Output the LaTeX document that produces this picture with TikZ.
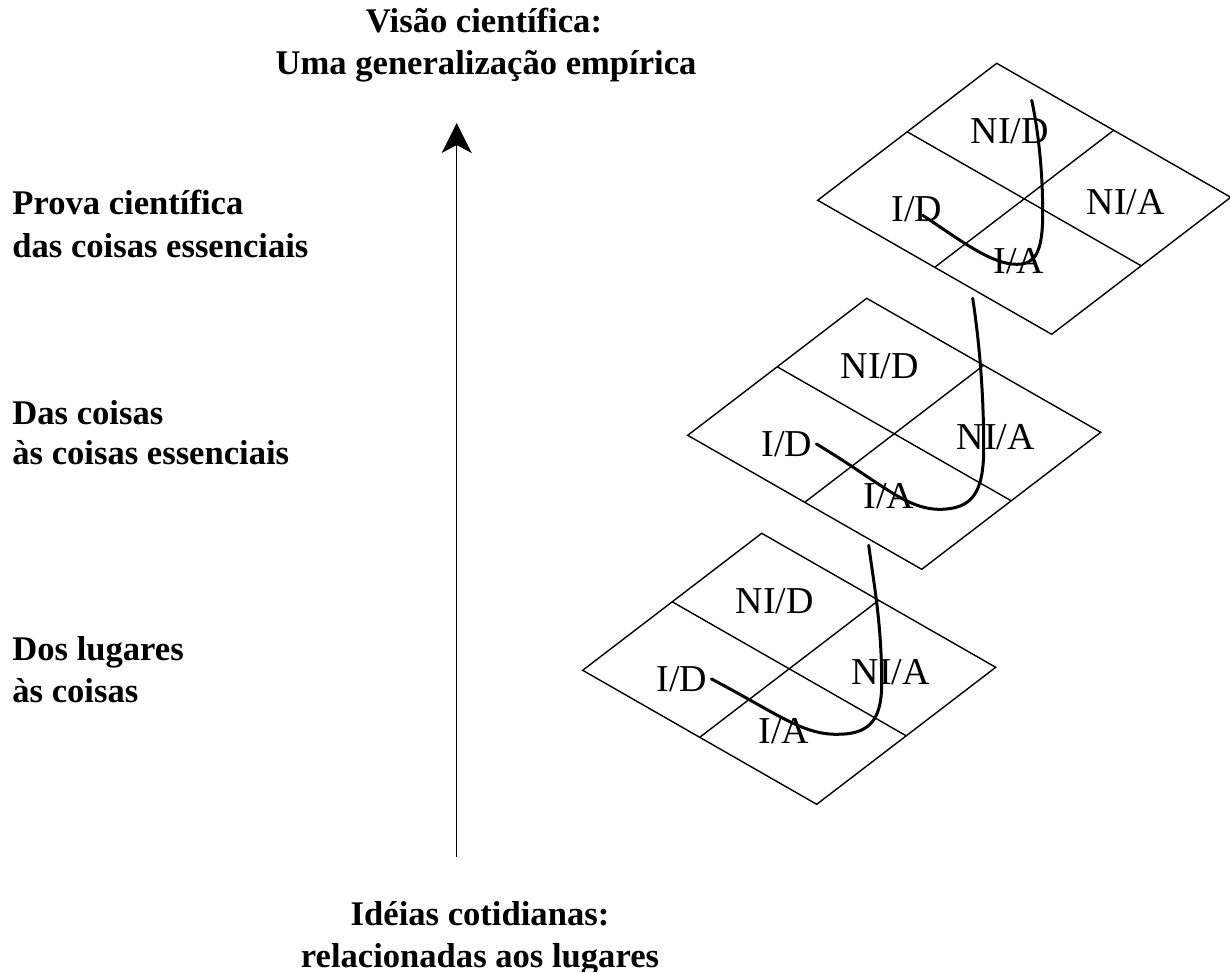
\documentclass[tikz,border=0pt]{standalone}
\usepackage{fontspec}
\setmainfont{Liberation Serif}
\usetikzlibrary{calc,arrows.meta}
\begin{document}
\begin{tikzpicture}[x=0.5pt,y=-0.5pt,
  plane/.style={line width=0.7pt,line join=miter},
  grid/.style={line width=0.7pt},
  path/.style={line width=1.5pt,line cap=round},
  celllabel/.style={font=\fontsize{19}{22}\selectfont,inner sep=2pt,anchor=base},
  sidetext/.style={font=\bfseries\fontsize{17.3}{20}\selectfont,inner sep=0pt,anchor=base west},
  titletext/.style={font=\bfseries\fontsize{17.3}{20}\selectfont,inner sep=0pt,anchor=base},
  axis/.style={line width=0.75pt,-{Stealth[length=15pt,width=15pt,inset=4pt]}}]
\useasboundingbox (0,0) rectangle (1230,972);
\fill[white] (0,0) rectangle (1230,972);

% plane top vertices
\coordinate (T1) at (996.7,63.3);
\coordinate (T2) at (866.7,298.3);
\coordinate (T3) at (761.7,533.3);

\foreach \t in {1,2,3}{
  \coordinate (L\t) at ($(T\t)+(-179,137)$);
  \coordinate (R\t) at ($(T\t)+(234,134)$);
  \coordinate (B\t) at ($(T\t)+(55,271)$);
  \draw[plane] (T\t) -- (L\t) -- (B\t) -- (R\t) -- cycle;
  \draw[grid] ($(T\t)!0.5!(L\t)$) -- ($(R\t)!0.5!(B\t)$);
  \draw[grid] ($(T\t)!0.5!(R\t)$) -- ($(L\t)!0.5!(B\t)$);
  \node[celllabel] (nid\t) at ($(T\t)+(13,80)$) {NI/D};
  \node[celllabel] (nia\t) at ($(T\t)+(129,151)$) {NI/A};
  \node[celllabel] (id\t) at ($(T\t)+(-80,158)$) {I/D};
  \node[celllabel] (ia\t) at ($(T\t)+(22,210)$) {I/A};
}

% top plane path
\coordinate (s1) at ($(T1)+(-74,152)$);
\draw[path] (s1) .. controls ($(T1)+(-35,178)$) and ($(T1)+(-5,201)$) .. ($(T1)+(20,201)$)
  .. controls ($(T1)+(38,201)$) and ($(T1)+(46,190)$) .. ($(T1)+(46,150)$)
  .. controls ($(T1)+(46,100)$) and ($(T1)+(40,60)$) .. ($(T1)+(35,37)$);

% middle plane path
\coordinate (e2) at ($(T2)+(106,0)$);
\draw[path] (id2.east) .. controls ($(T2)+(15,185)$) and ($(T2)+(40,212)$) .. ($(T2)+(75,211)$)
  .. controls ($(T2)+(105,210)$) and ($(T2)+(117,195)$) .. ($(T2)+(117,150)$)
  .. controls ($(T2)+(117,90)$) and ($(T2)+(112,40)$) .. (e2);

% bottom plane path
\coordinate (e3) at ($(T3)+(107,12)$);
\draw[path] (id3.east) .. controls ($(T3)+(15,180)$) and ($(T3)+(40,201)$) .. ($(T3)+(75,201)$)
  .. controls ($(T3)+(105,201)$) and ($(T3)+(120,190)$) .. ($(T3)+(120,150)$)
  .. controls ($(T3)+(120,90)$) and ($(T3)+(112,50)$) .. (e3);

% axis
\coordinate (axisbottom) at (456.7,857);
\coordinate (axistop) at (456.7,123);
\draw[axis] (axisbottom) -- (axistop);

% titles
\node[titletext] (toptitle1) at (484,33) {Visão científica:};
\node[titletext] (toptitle2) at (486,75) {Uma generalização empírica};
\node[titletext] (bottitle1) at (480,925) {Idéias cotidianas:};
\node[titletext] (bottitle2) at (480,967) {relacionadas aos lugares};

% side texts
\node[sidetext] (side1a) at (12,215) {Prova científica};
\node[sidetext] (side1b) at (12,258) {das coisas essenciais};
\node[sidetext] (side2a) at (12,425) {Das coisas};
\node[sidetext] (side2b) at (12,465) {às coisas essenciais};
\node[sidetext] (side3a) at (12,660) {Dos lugares};
\node[sidetext] (side3b) at (12,702) {às coisas};
\end{tikzpicture}
\end{document}
